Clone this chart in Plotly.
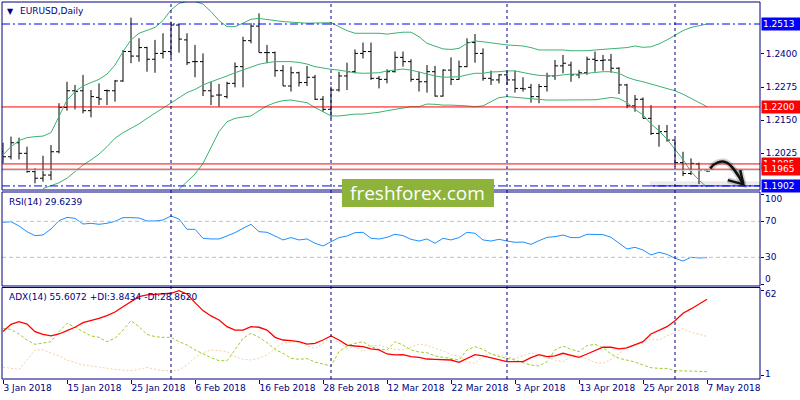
import plotly.graph_objects as go

# ---------------- data ----------------
tick_bars = [0, 8, 16, 24, 32, 40, 48, 56, 64, 72, 80, 88]
tick_labels = ["3 Jan 2018", "15 Jan 2018", "25 Jan 2018", "6 Feb 2018", "16 Feb 2018",
               "28 Feb 2018", "12 Mar 2018", "22 Mar 2018", "3 Apr 2018", "13 Apr 2018",
               "25 Apr 2018", "7 May 2018"]
month_start_bars = [21, 41, 63, 84]

opens = [1.2031,1.2012,1.2065,1.2025,1.1956,1.1931,1.1943,1.2031,1.2198,1.2261,
         1.2261,1.2186,1.2236,1.2262,1.2261,1.2298,1.2409,1.2392,1.2424,1.2380,
         1.2402,1.2409,1.2509,1.2453,1.2371,1.2371,1.2261,1.2245,1.2239,1.2289,
         1.2352,1.2450,1.2505,1.2405,1.2405,1.2337,1.2279,1.2329,1.2292,1.2312,
         1.2229,1.2191,1.2264,1.2317,1.2333,1.2402,1.2409,1.2308,1.2304,1.2333,
         1.2387,1.2371,1.2304,1.2295,1.2333,1.2241,1.2339,1.2304,1.2352,1.2443,
         1.2402,1.2308,1.2302,1.2321,1.2302,1.2270,1.2274,1.2239,1.2277,1.2317,
         1.2355,1.2358,1.2321,1.2329,1.2380,1.2375,1.2377,1.2346,1.2283,1.2204,
         1.2229,1.2157,1.2100,1.2107,1.2075,1.1990,1.1949,1.1985,1.1960]
highs = [1.2065,1.2088,1.2084,1.2050,1.1968,1.2016,1.2056,1.2214,1.2295,1.2283,
         1.2321,1.2264,1.2289,1.2266,1.2302,1.2415,1.2537,1.2459,1.2427,1.2453,
         1.2478,1.2522,1.2513,1.2478,1.2434,1.2402,1.2295,1.2287,1.2295,1.2368,
         1.2465,1.2516,1.2553,1.2434,1.2409,1.2358,1.2352,1.2333,1.2355,1.2321,
         1.2241,1.2277,1.2333,1.2367,1.2417,1.2443,1.2443,1.2317,1.2342,1.2409,
         1.2409,1.2380,1.2333,1.2358,1.2355,1.2342,1.2387,1.2375,1.2459,1.2475,
         1.2421,1.2337,1.2324,1.2337,1.2337,1.2312,1.2287,1.2287,1.2329,1.2377,
         1.2396,1.2371,1.2339,1.2390,1.2409,1.2396,1.2400,1.2350,1.2287,1.2245,
         1.2236,1.2207,1.2132,1.2132,1.2078,1.2031,1.2006,1.1990,1.1964]
lows = [1.1987,1.2002,1.2002,1.1952,1.1912,1.1918,1.1924,1.2025,1.2186,1.2191,
        1.2176,1.2161,1.2207,1.2207,1.2220,1.2295,1.2365,1.2371,1.2333,1.2329,
        1.2383,1.2383,1.2405,1.2358,1.2312,1.2241,1.2207,1.2201,1.2232,1.2274,
        1.2274,1.2440,1.2405,1.2365,1.2314,1.2279,1.2258,1.2277,1.2279,1.2226,
        1.2182,1.2157,1.2258,1.2264,1.2327,1.2383,1.2302,1.2270,1.2289,1.2330,
        1.2352,1.2295,1.2258,1.2254,1.2239,1.2239,1.2283,1.2302,1.2350,1.2367,
        1.2299,1.2283,1.2289,1.2283,1.2254,1.2258,1.2216,1.2214,1.2258,1.2302,
        1.2327,1.2295,1.2308,1.2321,1.2333,1.2337,1.2329,1.2249,1.2195,1.2182,
        1.2157,1.2094,1.2050,1.2069,1.1975,1.1939,1.1943,1.1909,1.1955]
closes = [1.2012,1.2065,1.2025,1.1956,1.1931,1.1943,1.2031,1.2198,1.2261,1.2258,
          1.2186,1.2239,1.2230,1.2261,1.2298,1.2409,1.2392,1.2424,1.2380,1.2402,
          1.2409,1.2509,1.2456,1.2367,1.2371,1.2261,1.2241,1.2245,1.2289,1.2352,
          1.2450,1.2505,1.2405,1.2405,1.2337,1.2279,1.2329,1.2292,1.2312,1.2229,
          1.2191,1.2264,1.2317,1.2333,1.2402,1.2409,1.2308,1.2304,1.2333,1.2387,
          1.2371,1.2304,1.2295,1.2333,1.2241,1.2339,1.2304,1.2352,1.2443,1.2402,
          1.2308,1.2302,1.2321,1.2302,1.2270,1.2268,1.2239,1.2277,1.2317,1.2355,
          1.2365,1.2321,1.2329,1.2380,1.2375,1.2377,1.2346,1.2283,1.2204,1.2229,
          1.2157,1.2100,1.2107,1.2075,1.1990,1.1949,1.1987,1.1960,1.1958]

bb_upper = [1.2019,1.2050,1.2073,1.2084,1.2088,1.2090,1.2103,1.2163,1.2226,1.2258,
            1.2279,1.2292,1.2304,1.2324,1.2358,1.2409,1.2453,1.2478,1.2488,1.2500,
            1.2526,1.2566,1.2591,1.2598,1.2598,1.2588,1.2560,1.2526,1.2503,1.2503,
            1.2516,1.2531,1.2534,1.2531,1.2526,1.2522,1.2519,1.2518,1.2516,1.2516,
            1.2518,1.2518,1.2503,1.2488,1.2478,1.2478,1.2480,1.2478,1.2475,1.2478,
            1.2482,1.2482,1.2465,1.2440,1.2430,1.2419,1.2417,1.2421,1.2440,1.2449,
            1.2446,1.2443,1.2438,1.2434,1.2431,1.2430,1.2424,1.2415,1.2415,1.2415,
            1.2415,1.2412,1.2411,1.2412,1.2415,1.2417,1.2419,1.2421,1.2424,1.2430,
            1.2425,1.2427,1.2438,1.2453,1.2471,1.2488,1.2500,1.2507,1.2513]
bb_middle = [None,None,None,None,None,1.1892,1.1902,1.1914,1.1931,1.1956,
             1.1981,1.2000,1.2022,1.2050,1.2082,1.2103,1.2119,1.2136,1.2157,1.2176,
             1.2195,1.2214,1.2236,1.2254,1.2266,1.2283,1.2295,1.2305,1.2317,1.2329,
             1.2339,1.2352,1.2361,1.2367,1.2371,1.2371,1.2371,1.2368,1.2362,1.2352,
             1.2346,1.2342,1.2339,1.2333,1.2329,1.2327,1.2327,1.2329,1.2336,1.2339,
             1.2343,1.2339,1.2331,1.2324,1.2317,1.2312,1.2312,1.2314,1.2321,1.2327,
             1.2327,1.2332,1.2333,1.2336,1.2336,1.2329,1.2324,1.2319,1.2317,1.2317,
             1.2321,1.2324,1.2324,1.2327,1.2332,1.2333,1.2333,1.2327,1.2312,1.2302,
             1.2295,1.2287,1.2279,1.2270,1.2261,1.2248,1.2232,1.2216,1.2201]
bb_lower = [None]*22 + [1.1889,1.1918,1.1947,1.1987,1.2050,1.2107,1.2144,1.2157,
            1.2162,1.2166,1.2186,1.2204,1.2216,1.2224,1.2226,1.2222,1.2216,1.2198,
            1.2182,1.2166,1.2166,1.2170,1.2173,1.2173,1.2176,1.2180,1.2186,1.2191,
            1.2198,1.2201,1.2201,1.2211,1.2210,1.2207,1.2207,1.2206,1.2204,1.2201,
            1.2204,1.2220,1.2235,1.2239,1.2236,1.2234,1.2230,1.2227,1.2226,1.2226,
            1.2226,1.2226,1.2226,1.2226,1.2227,1.2231,1.2236,1.2232,1.2216,1.2191,
            1.2170,1.2136,1.2110,1.2078,1.2038,1.2002,1.1956,1.1924,1.1897]

rsi = [68.9,69.6,64.8,58.5,54.1,54.8,61.5,70.7,74.4,73.3,
       67.0,67.8,66.7,67.8,70.0,74.1,74.1,73.7,70.4,70.4,
       71.5,75.9,72.6,61.1,61.1,51.1,50.4,50.4,53.7,57.4,
       62.2,66.7,58.5,57.8,53.7,49.3,51.9,49.3,50.4,45.6,
       42.6,47.4,51.9,53.7,57.4,57.8,51.1,50.4,52.2,55.6,
       54.1,50.0,48.1,50.4,45.6,51.1,49.3,51.9,57.8,56.7,
       49.3,48.1,50.0,48.1,46.7,47.0,44.4,48.5,52.2,53.0,
       54.8,51.9,51.9,55.6,55.6,55.2,52.2,45.6,39.3,41.1,
       38.1,32.6,35.6,33.3,28.9,25.9,30.0,29.3,29.6]

adx = [32.5,37.7,39.6,37.9,32.5,30.5,29.4,30.8,33.2,35.6,
       38.9,40.3,42.0,43.9,46.5,50.3,53.9,57.5,58.7,59.1,
       59.4,59.9,61.8,59.4,53.2,47.5,43.7,40.8,36.0,33.6,
       33.6,36.0,35.6,33.6,28.4,26.5,26.0,25.3,23.6,24.1,
       26.5,29.4,26.5,22.9,22.2,21.7,20.1,19.4,16.5,15.8,
       16.0,14.6,14.1,12.9,12.7,12.7,12.2,10.5,13.4,16.0,
       15.1,13.9,12.7,11.0,11.0,11.0,13.9,16.0,14.6,15.1,
       17.0,15.8,14.1,16.5,18.9,21.3,21.3,20.1,20.8,22.9,
       25.3,30.8,33.6,36.0,40.3,45.6,48.7,52.2,55.6]
plus_di = [34.8,34.1,30.8,26.5,23.4,24.1,25.3,32.5,38.4,35.6,
           32.5,29.4,28.4,25.3,27.7,33.6,40.3,36.0,30.5,28.9,
           28.4,28.4,25.3,22.9,19.4,16.5,13.9,11.7,11.7,19.4,
           27.7,31.3,28.4,24.6,19.8,17.0,13.4,12.7,13.2,10.8,
           9.3,7.9,18.2,22.2,24.1,25.3,21.7,19.8,19.4,25.3,
           22.9,19.4,17.9,17.4,15.1,13.9,13.2,12.2,19.4,21.7,
           19.8,16.5,14.6,13.4,12.2,10.3,8.6,7.9,11.0,19.4,
           22.2,19.8,18.2,22.5,23.4,21.0,16.5,13.4,12.2,10.8,
           8.6,6.7,6.2,6.2,4.6,4.6,4.4,4.1,3.8]
minus_di = [7.0,6.2,5.5,12.2,19.4,19.4,17.4,15.1,12.2,10.3,
            8.6,7.9,7.0,6.2,5.5,5.0,4.6,5.5,7.0,5.5,
            4.6,4.6,5.0,8.6,13.9,17.4,19.4,18.9,18.2,14.6,
            12.7,12.2,13.4,15.8,20.5,24.1,25.0,24.6,22.2,20.5,
            24.1,27.7,24.6,20.5,21.7,18.2,22.2,22.9,21.3,19.8,
            19.4,21.7,23.6,22.7,20.5,18.9,15.8,15.1,11.0,9.8,
            14.6,17.0,15.8,14.1,13.2,15.1,17.4,15.1,14.1,12.2,
            11.0,14.6,15.8,12.7,10.5,9.8,12.7,16.5,21.7,23.4,
            24.1,27.2,26.5,29.6,31.9,34.8,31.9,30.8,28.9]

price_ticks = [1.2400, 1.2275, 1.2150, 1.2025]
red_levels = [1.2200, 1.1985, 1.1965]
blue_levels = [1.2513, 1.1902]
rsi_levels = [70, 30]

# ---------------- styling ----------------
NAVY = "#00007F"
FONT = "DejaVu Sans"
bars = list(range(len(closes)))

MAIN_DOM = [0.5013, 1.0]
RSI_DOM = [0.2467, 0.4960]
ADX_DOM = [0.0, 0.2427]

fig = go.Figure()
fig.add_trace(go.Ohlc(x=bars, open=opens, high=highs, low=lows, close=closes,
                      increasing=dict(line=dict(color="black", width=1)),
                      decreasing=dict(line=dict(color="black", width=1)),
                      tickwidth=0.375, xaxis="x", yaxis="y", hoverinfo="skip"))
for band in (bb_upper, bb_middle, bb_lower):
    fig.add_trace(go.Scatter(x=bars, y=band, mode="lines",
                             line=dict(color="#3CB371", width=1), xaxis="x", yaxis="y",
                             hoverinfo="skip"))
fig.add_trace(go.Scatter(x=bars, y=rsi, mode="lines", line=dict(color="#1E90FF", width=1),
                         xaxis="x", yaxis="y2", hoverinfo="skip"))
fig.add_trace(go.Scatter(x=bars, y=minus_di, mode="lines",
                         line=dict(color="#F2CFA0", width=1, dash="2px,2px"),
                         xaxis="x", yaxis="y3", hoverinfo="skip"))
fig.add_trace(go.Scatter(x=bars, y=plus_di, mode="lines",
                         line=dict(color="#9ACD32", width=1, dash="3px,2px"),
                         xaxis="x", yaxis="y3", hoverinfo="skip"))
fig.add_trace(go.Scatter(x=bars, y=adx, mode="lines", line=dict(color="#FF0000", width=1.3),
                         xaxis="x", yaxis="y3", hoverinfo="skip"))

shapes = []
# level lines
for lv in red_levels:
    shapes.append(dict(type="line", xref="paper", x0=0, x1=1, yref="y", y0=lv, y1=lv,
                       line=dict(color="#FF0000", width=1)))
shapes.append(dict(type="line", xref="paper", x0=0, x1=1, yref="y", y0=1.19612, y1=1.19612,
                   line=dict(color="#D8D8D8", width=1)))
for lv in blue_levels:
    shapes.append(dict(type="line", xref="paper", x0=0, x1=1, yref="y", y0=lv, y1=lv,
                       line=dict(color="#0000FF", width=1, dash="8px,3px,2px,3px")))
# gray shadow + solid blue segment near 1.1902
shapes.append(dict(type="rect", xref="paper", x0=0.855, x1=1, yref="y", y0=1.1903, y1=1.1920,
                   fillcolor="#EBEBEB", line=dict(width=0), layer="below"))
shapes.append(dict(type="line", xref="paper", x0=0.855, x1=1, yref="y", y0=1.1902, y1=1.1902,
                   line=dict(color="#0000FF", width=1)))
# RSI levels
for lv in rsi_levels:
    shapes.append(dict(type="line", xref="paper", x0=0, x1=1, yref="y2", y0=lv, y1=lv,
                       line=dict(color="#C0C0C0", width=1, dash="4px,3px")))
# month separators
for b in month_start_bars:
    shapes.append(dict(type="line", xref="x", x0=b, x1=b, yref="paper", y0=0, y1=1,
                       line=dict(color=NAVY, width=1, dash="3px,3px")))
# panel frames
for dom in (MAIN_DOM, RSI_DOM, ADX_DOM):
    shapes.append(dict(type="rect", xref="paper", x0=0, x1=1, yref="paper", y0=dom[0], y1=dom[1],
                       line=dict(color=NAVY, width=1), fillcolor="rgba(0,0,0,0)"))
# hand-drawn forecast arrow (shadow + stroke)
arrow_path = "M 88.4,1.1968 C 88.9,1.1990 89.8,1.1999 90.4,1.1991 C 91.0,1.1983 91.9,1.1945 92.5,1.1910"
head_path = "M 90.6,1.1924 L 92.55,1.1908 L 92.15,1.1962"
for pth in (arrow_path, head_path):
    shapes.append(dict(type="path", xref="x", yref="y", path=pth,
                       line=dict(color="rgba(0,0,0,0.18)", width=6)))
for pth in (arrow_path, head_path):
    shapes.append(dict(type="path", xref="x", yref="y", path=pth,
                       line=dict(color="#111111", width=2.5)))
# watermark box
shapes.append(dict(type="rect", xref="paper", x0=0.4485, x1=0.6491, yref="paper", y0=0.4562, y1=0.5305,
                   fillcolor="#8DB33B", line=dict(width=0), layer="above"))

annotations = [
    dict(text="▼", xref="paper", yref="paper", x=0.0045, y=0.976, xanchor="left", yanchor="middle",
         showarrow=False, font=dict(family=FONT, size=8, color=NAVY)),
    dict(text="EURUSD,Daily", xref="paper", yref="paper", x=0.0211, y=0.976, xanchor="left",
         yanchor="middle", showarrow=False, font=dict(family=FONT, size=9, color=NAVY)),
    dict(text="RSI(14) 29.6239", xref="paper", yref="paper", x=0.0071, y=0.4708, xanchor="left",
         yanchor="middle", showarrow=False, font=dict(family=FONT, size=9, color=NAVY)),
    dict(text="ADX(14) 55.6072 +DI:3.8434 -DI:28.8620", xref="paper", yref="paper", x=0.0071,
         y=0.2183, xanchor="left", yanchor="middle", showarrow=False,
         font=dict(family=FONT, size=9, color=NAVY)),
    dict(text="freshforex.com", xref="paper", yref="paper", x=0.5488, y=0.4934, xanchor="center",
         yanchor="middle", showarrow=False, font=dict(family="Open Sans", size=19, color="white")),
]
# highlighted price labels
for lv, col in ((1.2513, "#0000FF"), (1.2200, "#FF0000"), (1.1985, "#FF0000"),
                (1.1965, "#FF0000"), (1.1902, "#0000FF")):
    annotations.append(dict(text=f"{lv:.4f}", xref="paper", yref="y", x=1, y=lv, xanchor="left",
                            yanchor="middle", xshift=1, showarrow=False, bgcolor=col, width=36,
                            align="left", borderpad=1,
                            font=dict(family=FONT, size=9, color="white")))
# RSI / ADX scale labels
for val, shift in ((100, -5), (70, 0), (30, 0), (0, 5)):
    annotations.append(dict(text=str(val), xref="paper", yref="y2", x=1, y=val, xanchor="left",
                            yanchor="middle", xshift=3, yshift=shift, showarrow=False,
                            font=dict(family=FONT, size=9, color=NAVY)))
for val, shift in ((62, -4), (1, 2)):
    annotations.append(dict(text=str(val), xref="paper", yref="y3", x=1, y=val, xanchor="left",
                            yanchor="middle", xshift=3, yshift=shift, showarrow=False,
                            font=dict(family=FONT, size=9, color=NAVY)))

fig.update_layout(
    width=800, height=400, margin=dict(l=2, r=40, t=2, b=21, autoexpand=False),
    paper_bgcolor="white", plot_bgcolor="white", showlegend=False, hovermode=False,
    font=dict(family=FONT, size=9, color=NAVY),
    xaxis=dict(domain=[0, 1], range=[-0.125, 94.625], anchor="y3", showgrid=False, zeroline=False,
               showline=False, tickvals=tick_bars, ticktext=tick_labels, ticks="outside",
               ticklen=4, tickcolor=NAVY, ticklabelposition="outside right", tickangle=0,
               automargin=False, tickfont=dict(family=FONT, size=9, color=NAVY),
               rangeslider=dict(visible=False)),
    yaxis=dict(domain=MAIN_DOM, range=[1.18866, 1.2596], side="right", anchor="x", showgrid=False,
               zeroline=False, showline=False, tickvals=price_ticks, tickformat=".4f",
               ticks="outside", ticklen=3, tickcolor=NAVY, automargin=False,
               tickfont=dict(family=FONT, size=9, color=NAVY)),
    yaxis2=dict(domain=RSI_DOM, range=[-1.9, 102.6], side="right", anchor="x", showgrid=False,
                zeroline=False, showline=False, tickvals=[100, 70, 30, 0], ticks="outside",
                ticklen=3, tickcolor=NAVY, showticklabels=False, automargin=False),
    yaxis3=dict(domain=ADX_DOM, range=[-1.38, 64.02], side="right", anchor="x", showgrid=False,
                zeroline=False, showline=False, tickvals=[62, 1], ticks="outside",
                ticklen=3, tickcolor=NAVY, showticklabels=False, automargin=False),
    shapes=shapes, annotations=annotations,
)

fig.write_html("out.html", config={"displayModeBar": False, "staticPlot": True},
               post_script="document.body.style.margin='0';document.body.style.padding='0';")
